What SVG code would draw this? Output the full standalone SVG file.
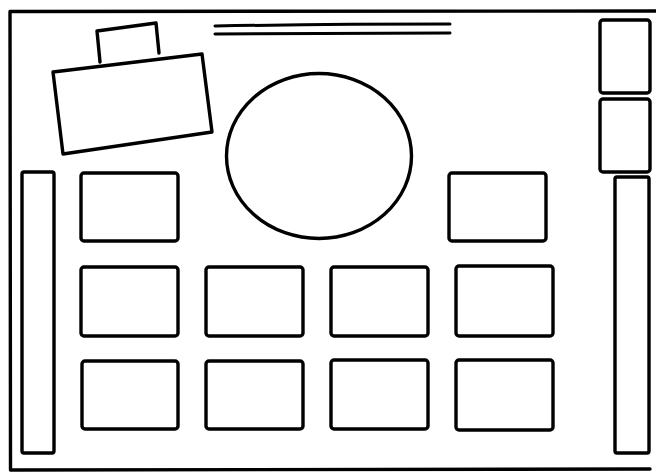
<svg xmlns="http://www.w3.org/2000/svg" width="656" height="472" viewBox="0 0 656 472">
<style>
.s{fill:none;stroke:#000;stroke-width:3.4;stroke-linecap:round;stroke-linejoin:round}
.t{fill:none;stroke:#000;stroke-width:3;stroke-linecap:round}
</style>
<rect width="656" height="472" fill="#fff"/>
<g id="frame"><path class="s" d="M660 11 L10 11.5 L10.5 470 L650 469"/></g>
<g id="title-lines"><path class="t" d="M215 26 Q330 24 450 24"/><path class="t" d="M215 34 Q330 33 450 33"/></g>
<g id="tab"><path class="s" d="M97 31 L156 23 L159 53 M100 62 L97 31"/></g>
<g id="panel"><path class="s" d="M53 72 L202 54 L212 132 L63 154 Z"/></g>
<g id="circle"><ellipse class="s" cx="319" cy="156" rx="92.5" ry="82.5"/></g>
<g id="left-bar"><rect class="s" x="22" y="172" width="32" height="281" rx="2"/></g>
<g id="right-box-1"><rect class="s" x="600" y="20" width="50" height="73" rx="3"/></g>
<g id="right-box-2"><rect class="s" x="600" y="99" width="50" height="73" rx="3"/></g>
<g id="right-bar"><rect class="s" x="615" y="177" width="34" height="276" rx="2"/></g>
<g id="r1c1"><rect class="s" x="81" y="173" width="97" height="68" rx="3"/></g>
<g id="r1c4"><rect class="s" x="449" y="173" width="97" height="68" rx="3"/></g>
<g id="r2c1"><rect class="s" x="81" y="267" width="97" height="69" rx="3"/></g>
<g id="r2c2"><rect class="s" x="206" y="267" width="97" height="69" rx="3"/></g>
<g id="r2c3"><rect class="s" x="331" y="267" width="97" height="69" rx="3"/></g>
<g id="r2c4"><rect class="s" x="456" y="266" width="97" height="70" rx="3"/></g>
<g id="r3c1"><rect class="s" x="82" y="361" width="96" height="68" rx="3"/></g>
<g id="r3c2"><rect class="s" x="206" y="361" width="97" height="68" rx="3"/></g>
<g id="r3c3"><rect class="s" x="331" y="360" width="97" height="69" rx="3"/></g>
<g id="r3c4"><rect class="s" x="456" y="360" width="97" height="70" rx="3"/></g>
</svg>
